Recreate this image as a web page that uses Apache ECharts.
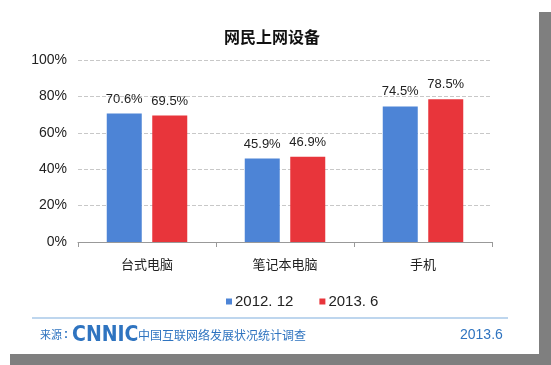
<!DOCTYPE html>
<html><head><meta charset="utf-8">
<script src="https://cdn.jsdelivr.net/npm/echarts@6/dist/echarts.min.js"></script>
<style>html,body{margin:0;padding:0;background:#fff}#c{width:551px;height:365px}</style>
</head><body><div id="c"></div>
<script>
var categories = ['台式电脑', '笔记本电脑', '手机'];
var series2012 = [70.6, 45.9, 74.5];
var series2013 = [69.5, 46.9, 78.5];
var seriesNames = ['2012. 12', '2013. 6'];
var yTicks = [0, 20, 40, 60, 80, 100];

var chart = echarts.init(document.getElementById('c'), null, {renderer: 'canvas'});
var sans = '"Liberation Sans", Arial, sans-serif';
var labelStyle = {show: true, position: 'top', distance: 8, color: '#222', fontSize: 13, fontFamily: sans, formatter: function(p){return p.value.toFixed(1) + '%';}};
chart.setOption({
  backgroundColor: '#fff',
  animation: false,
  title: {text: '网民上网设备', left: 219, top: 24,
    textStyle: {fontSize: 16, fontWeight: 'bold', color: '#111', fontFamily: 'Noto Sans CJK SC, sans-serif'}},
  legend: {data: seriesNames, left: 221, top: 289, itemWidth: 6, itemHeight: 6, itemGap: 26, icon: 'rect',
    textStyle: {fontSize: 15, color: '#222', fontFamily: sans, padding: [0, 0, 0, -2]}},
  grid: {left: 78, right: 59, top: 60, bottom: 123},
  xAxis: {type: 'category', data: categories,
    axisLine: {lineStyle: {color: '#999', width: 1}},
    axisTick: {show: true, length: 5, lineStyle: {color: '#999'}},
    axisLabel: {fontSize: 13, color: '#222', margin: 16, fontFamily: 'Noto Sans CJK SC, sans-serif'}},
  yAxis: {type: 'value', min: yTicks[0], max: yTicks[yTicks.length - 1], interval: 20,
    axisLine: {show: false}, axisTick: {show: false},
    axisLabel: {fontSize: 14, color: '#222', margin: 11, fontFamily: sans, formatter: '{value}%'},
    splitLine: {lineStyle: {color: '#c8c8c8', type: 'dashed', width: 1}}},
  series: [
    {name: seriesNames[0], type: 'bar', data: series2012, barWidth: 35, barGap: '30%',
      itemStyle: {color: '#4d84d6'}, label: labelStyle},
    {name: seriesNames[1], type: 'bar', data: series2013, barWidth: 35,
      itemStyle: {color: '#e8353b'}, label: labelStyle}
  ],
  graphic: [
    {type: 'rect', shape: {x: 539, y: 12, width: 12, height: 353}, style: {fill: '#7f7f7f'}, silent: true},
    {type: 'rect', shape: {x: 10, y: 354, width: 541, height: 11}, style: {fill: '#7f7f7f'}, silent: true},
    {type: 'line', shape: {x1: 32, y1: 318, x2: 508, y2: 318}, style: {stroke: '#a9c8e8', lineWidth: 1.5}},
    {type: 'text', x: 40, y: 335, style: {text: '来源', font: '11px "Noto Sans CJK SC", sans-serif', fill: '#2f74c0', textVerticalAlign: 'middle'}},
    {type: 'text', x: 64, y: 335, style: {text: ':', font: 'bold 12px "Liberation Sans", sans-serif', fill: '#2f74c0', textVerticalAlign: 'middle'}},
    {type: 'text', x: 72, y: 335, scaleX: 0.86, style: {text: 'CNNIC', font: 'bold 22px "DejaVu Sans", sans-serif', fill: '#2f74c0', textVerticalAlign: 'middle'}},
    {type: 'text', x: 138, y: 335, style: {text: '中国互联网络发展状况统计调查', font: '12px "Noto Sans CJK SC", sans-serif', fill: '#2f74c0', textVerticalAlign: 'middle'}},
    {type: 'text', x: 460, y: 335, style: {text: '2013.6', font: '14px "Liberation Sans", Arial, sans-serif', fill: '#2f74c0', textVerticalAlign: 'middle'}}
  ]
});
</script></body></html>
